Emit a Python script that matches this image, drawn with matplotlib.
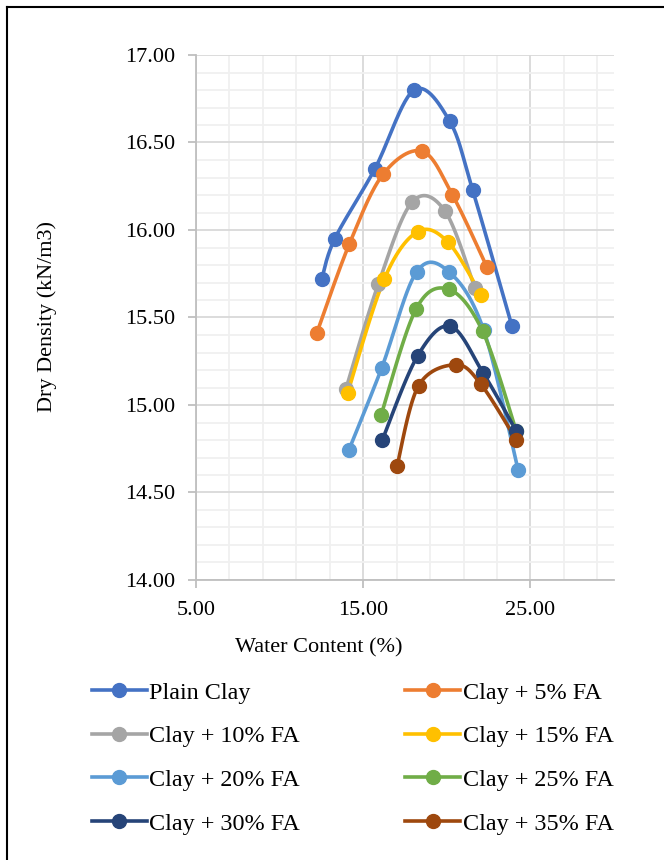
"""Compaction curves: dry density vs water content for clay + fly ash mixes."""
import matplotlib
matplotlib.use("Agg")
import matplotlib.pyplot as plt
from matplotlib.lines import Line2D
import numpy as np

plt.rcParams["font.family"] = ["Liberation Serif", "DejaVu Serif"]

LABELS = ["Plain Clay", "Clay + 5% FA", "Clay + 10% FA", "Clay + 15% FA",
          "Clay + 20% FA", "Clay + 25% FA", "Clay + 30% FA", "Clay + 35% FA"]
COLORS = ["#4472C4", "#ED7D31", "#A5A5A5", "#FFC000",
          "#5B9BD5", "#70AD47", "#264478", "#9E480E"]

# water content (%) and dry density (kN/m3)
W_PLAIN = [12.52, 13.30, 15.70, 18.05, 20.18, 21.54, 23.90]
D_PLAIN = [15.72, 15.95, 16.35, 16.80, 16.62, 16.23, 15.45]
W_05 = [12.22, 14.17, 16.20, 18.53, 20.34, 22.39]
D_05 = [15.41, 15.92, 16.32, 16.45, 16.20, 15.79]
W_10 = [13.96, 15.90, 17.93, 19.88, 21.68]
D_10 = [15.09, 15.69, 16.16, 16.11, 15.67]
W_15 = [14.07, 16.26, 18.25, 20.08, 22.05]
D_15 = [15.07, 15.72, 15.99, 15.93, 15.63]
W_20 = [14.13, 16.10, 18.19, 20.14, 22.20, 24.26]
D_20 = [14.74, 15.21, 15.76, 15.76, 15.43, 14.63]
W_25 = [16.06, 18.17, 20.14, 22.15, 24.16]
D_25 = [14.94, 15.55, 15.66, 15.42, 14.85]
W_30 = [16.14, 18.25, 20.22, 22.19, 24.16]
D_30 = [14.80, 15.28, 15.45, 15.18, 14.85]
W_35 = [17.02, 18.31, 20.54, 22.03, 24.16]
D_35 = [14.65, 15.11, 15.23, 15.12, 14.80]

SERIES = [(W_PLAIN, D_PLAIN), (W_05, D_05), (W_10, D_10), (W_15, D_15),
          (W_20, D_20), (W_25, D_25), (W_30, D_30), (W_35, D_35)]


def _smooth(x, y, n=30):
    """Excel-like smoothed line: Catmull-Rom through the points as Beziers."""
    p = np.column_stack([x, y]).astype(float)
    ext = np.vstack([p[0], p, p[-1]])
    t = np.linspace(0, 1, n)[:, None]
    out = []
    for i in range(len(p) - 1):
        p0, p1, p2, p3 = ext[i], ext[i + 1], ext[i + 2], ext[i + 3]
        c1 = p1 + (p2 - p0) / 6
        c2 = p2 - (p3 - p1) / 6
        seg = ((1 - t) ** 3 * p1 + 3 * (1 - t) ** 2 * t * c1
               + 3 * (1 - t) * t ** 2 * c2 + t ** 3 * p2)
        out.append(seg if i == 0 else seg[1:])
    seg = np.vstack(out)
    return seg[:, 0], seg[:, 1]


fig = plt.figure(figsize=(6.64, 8.6), dpi=100)
ax = fig.add_axes([196 / 664, 1 - 580 / 860, 418 / 664, 525 / 860])

for (w, d), c in zip(SERIES, COLORS):
    xs, ys = _smooth(w, d)
    ax.plot(xs, ys, color=c, lw=2.6, solid_capstyle="round", zorder=3)
    ax.plot(w, d, "o", color=c, ms=10, zorder=4)

ax.set_xlim(5, 30)
ax.set_ylim(14, 17)
ax.set_xticks([5, 15, 25])
ax.set_xticklabels(["5.00", "15.00", "25.00"])
ax.set_yticks(np.arange(14, 17.01, 0.5))
ax.set_yticklabels([f"{v:.2f}" for v in np.arange(14, 17.01, 0.5)])
ax.set_xticks(np.arange(5, 30.01, 2), minor=True)
ax.set_yticks(np.arange(14, 17.01, 0.1), minor=True)
ax.grid(which="major", color="#D9D9D9", lw=1.3, zorder=1)
ax.grid(which="minor", color="#F0F0F0", lw=1.3, zorder=0)
ax.set_axisbelow(True)
for s in ("top", "right"):
    ax.spines[s].set_visible(False)
for s in ("left", "bottom"):
    ax.spines[s].set_color("#BFBFBF")
    ax.spines[s].set_linewidth(1.3)
ax.tick_params(which="major", length=6, width=1.3, color="#BFBFBF",
               labelsize=16, labelcolor="black", pad=9)
ax.tick_params(which="minor", length=0)

fig.text(47 / 664, 1 - 317 / 860, "Dry Density (kN/m3)", rotation=90,
         ha="center", va="center", fontsize=16)
fig.text(319 / 664, 1 - 648 / 860, "Water Content (%)",
         ha="center", va="center", fontsize=16)

handles = [Line2D([], [], color=c, lw=2.6, marker="o", ms=10) for c in COLORS]
order = [0, 2, 4, 6, 1, 3, 5, 7]
fig.legend([handles[i] for i in order], [LABELS[i] for i in order],
           loc="upper left", bbox_to_anchor=(82 / 664, 1 - 672 / 860),
           ncol=2, frameon=False, fontsize=17.4, handlelength=2.27,
           handletextpad=0.12, columnspacing=4.35, labelspacing=0.9,
           borderaxespad=0)

# page frame visible at top and left
fig.add_artist(Line2D([7 / 664, 1], [1 - 7 / 860, 1 - 7 / 860],
                      color="black", lw=1.5, transform=fig.transFigure))
fig.add_artist(Line2D([7 / 664, 7 / 664], [0, 1 - 7 / 860],
                      color="black", lw=1.5, transform=fig.transFigure))

fig.savefig("out.png", dpi=100)
